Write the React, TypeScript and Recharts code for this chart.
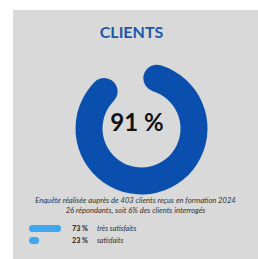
import { PieChart, Pie, Cell, BarChart, Bar, XAxis, YAxis } from "recharts";

const title = "CLIENTS";
const centerLabel = "91 %";
const ringValues = [91, 9];
const surveyLines = [
  "Enquête réalisée auprès de 403 clients reçus en formation 2024",
  "26 répondants, soit 6% des clients interrogés",
];
const legendNames = ["très satisfaits", "satisfaits"];
const legendValues = [73, 23];

const BLUE = "#0b4fae";
const LIGHT_BLUE = "#3fa7ef";
const FONT = "Lato, 'Open Sans', sans-serif";

export default function App() {
  const ring = ringValues.map((v, i) => ({ name: i === 0 ? "done" : "rest", value: v }));
  const bars = legendNames.map((n, i) => ({ name: n, value: legendValues[i] }));

  return (
    <div
      style={{
        position: "fixed",
        left: 0,
        top: 0,
        width: 258,
        height: 259,
        background: "#fff",
        fontFamily: FONT,
        overflow: "hidden",
      }}
    >
      <div
        style={{
          position: "absolute",
          left: 13,
          top: 10,
          width: 245,
          height: 249,
          background: "#d9d9d9",
        }}
      />
      <div
        style={{
          position: "absolute",
          left: 13,
          width: 245,
          top: 22,
          textAlign: "center",
          color: "#1c58aa",
          fontWeight: 700,
          fontSize: 16,
          lineHeight: "20px",
          paddingRight: 8,
          boxSizing: "border-box",
        }}
      >
        {title}
      </div>

      <div style={{ position: "absolute", left: 0, top: 0 }}>
        <PieChart width={258} height={259}>
          <Pie
            data={ring}
            dataKey="value"
            cx={136.5}
            cy={123.5}
            innerRadius={39}
            outerRadius={66}
            startAngle={88}
            endAngle={-272}
            cornerRadius={13.5}
            stroke="none"
            isAnimationActive={false}
          >
            {ring.map((d, i) => (
              <Cell key={d.name} fill={i === 0 ? BLUE : "transparent"} />
            ))}
          </Pie>
        </PieChart>
      </div>

      <div
        style={{
          position: "absolute",
          left: 87,
          width: 100,
          top: 106,
          textAlign: "center",
          color: "#111",
          fontWeight: 700,
          fontSize: 24,
          lineHeight: "32px",
        }}
      >
        {centerLabel}
      </div>

      <div
        style={{
          position: "absolute",
          left: 13,
          width: 245,
          top: 196,
          textAlign: "center",
          color: "#333",
          fontStyle: "italic",
          fontSize: 7.6,
          lineHeight: "9.5px",
          whiteSpace: "nowrap",
        }}
      >
        {surveyLines.map((l) => (
          <div key={l}>{l}</div>
        ))}
      </div>

      <div style={{ position: "absolute", left: 29, top: 222 }}>
        <BarChart
          width={44}
          height={24}
          data={bars}
          layout="vertical"
          margin={{ top: 0, right: 0, bottom: 0, left: 0 }}
        >
          <XAxis type="number" domain={[0, 100]} hide />
          <YAxis type="category" dataKey="name" hide />
          <Bar
            dataKey="value"
            fill={LIGHT_BLUE}
            barSize={7}
            radius={3.5}
            isAnimationActive={false}
          />
        </BarChart>
      </div>

      {bars.map((b, i) => (
        <div
          key={b.name}
          style={{
            position: "absolute",
            left: 72,
            top: 224 + i * 12,
            fontSize: 7.2,
            lineHeight: "9px",
            color: "#222",
            whiteSpace: "nowrap",
          }}
        >
          <span style={{ fontWeight: 700, display: "inline-block", width: 25 }}>
            {b.value} %
          </span>
          <span style={{ fontStyle: "italic", color: "#333" }}>{b.name}</span>
        </div>
      ))}
    </div>
  );
}
